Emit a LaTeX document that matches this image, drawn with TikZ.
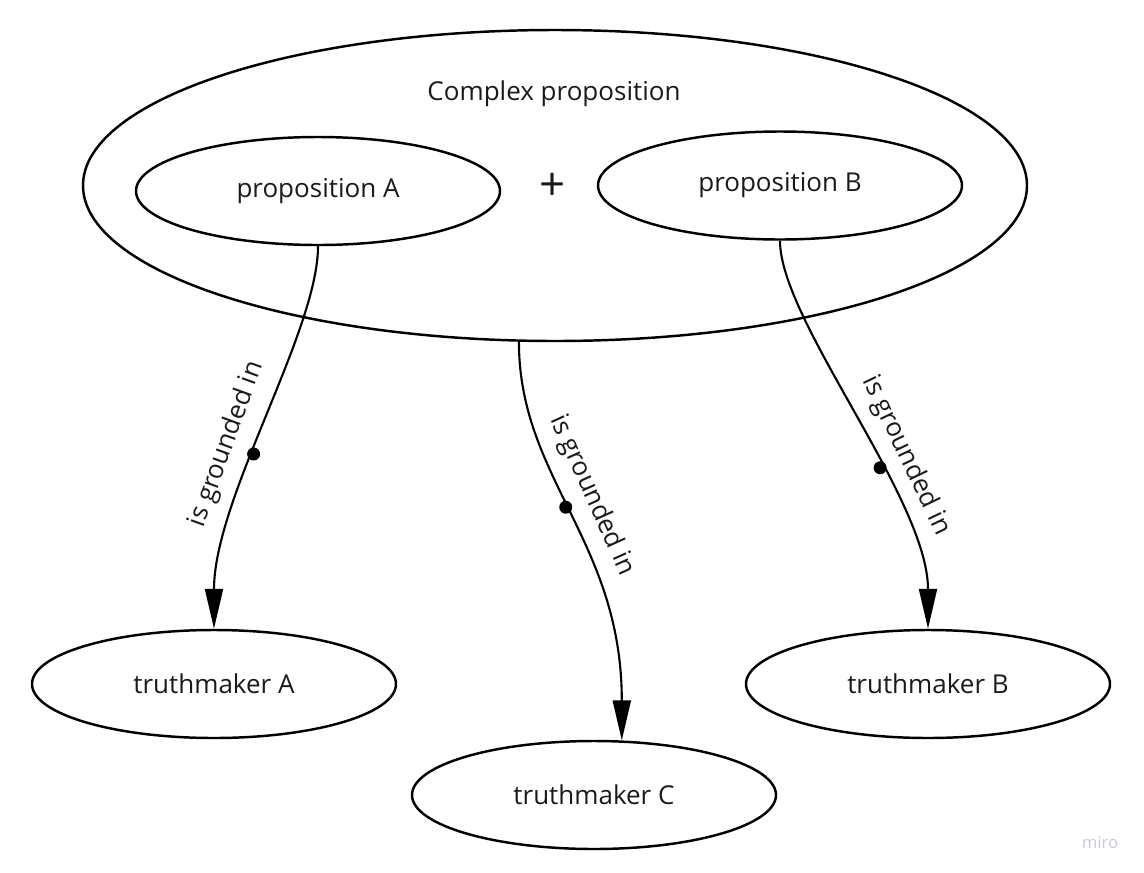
\documentclass[tikz,border=0pt]{standalone}
\usepackage{fontspec}
\setmainfont{Open Sans}
\usetikzlibrary{shapes.geometric,arrows.meta}
\definecolor{colorText}{RGB}{26,26,26}
\definecolor{colorMiro}{RGB}{200,202,216}
\newcommand\colorShape{black}
\newcommand\shapeLineWidth{1.4pt}
\newcommand\linkLineWidth{1.2pt}
\newcommand\bubbleWidth{364}
\newcommand\bubbleHeight{108}
\tikzset{
	bubble/.style={draw=\colorShape, line width=\shapeLineWidth, ellipse, inner sep=0pt,
		minimum width=\bubbleWidth*0.02cm, minimum height=\bubbleHeight*0.02cm, text=colorText},
	link/.style={draw=\colorShape, line width=\linkLineWidth,
		-{Triangle[length=0.8cm, width=0.36cm]}},
	linkdot/.style={circle, fill=\colorShape, inner sep=0pt, minimum size=0.26cm},
	linklabel/.style={sloped, above=5pt, text=colorText}
}

\begin{document}
\begin{tikzpicture}[x=0.02cm, y=-0.02cm, font=\fontsize{14.8}{18}\selectfont]
	\useasboundingbox (0,0) rectangle (1144,873);
	
	% complex proposition with its two parts
	\node[bubble, minimum width=944*0.02cm, minimum height=311*0.02cm] (cp) at (555,185.5) {};
	\node[text=colorText] (cpTitle) at (554,94) {Complex proposition};
	\node[bubble] (pA) at (318,191) {proposition A};
	\node[bubble] (pB) at (780,185.5) {proposition B};
	\node[text=colorText, font=\fontsize{26}{28}\selectfont] (plus) at (553,187) {+};
	
	% truthmakers
	\foreach \n/\x/\y/\t in {tA/214/684/A, tB/928/684/B, tC/594/795/C}{
		\node[bubble] (\n) at (\x,\y) {truthmaker \t};
	}
	
	\draw[link] (pA.south) .. controls +(0,85) and +(0,-130) .. node[linkdot, pos=0.58] (dA) {} node[linklabel, pos=0.58] (lA) {is grounded in} (tA.north);
	\draw[link] (cp.257) .. controls +(0,137) and +(0,-200) .. node[linkdot, pos=0.47] (dC) {} node[linklabel, pos=0.47] (lC) {is grounded in} (tC.63);
	\draw[link] (pB.south) .. controls +(0,80) and +(0,-130) .. node[linkdot, pos=0.62] (dB) {} node[linklabel, pos=0.62] (lB) {is grounded in} (tB.north);
	
	\node[text=colorMiro, font=\fontsize{9.5}{11}\selectfont] (miro) at (1100,842) {miro};
\end{tikzpicture}
\end{document}
